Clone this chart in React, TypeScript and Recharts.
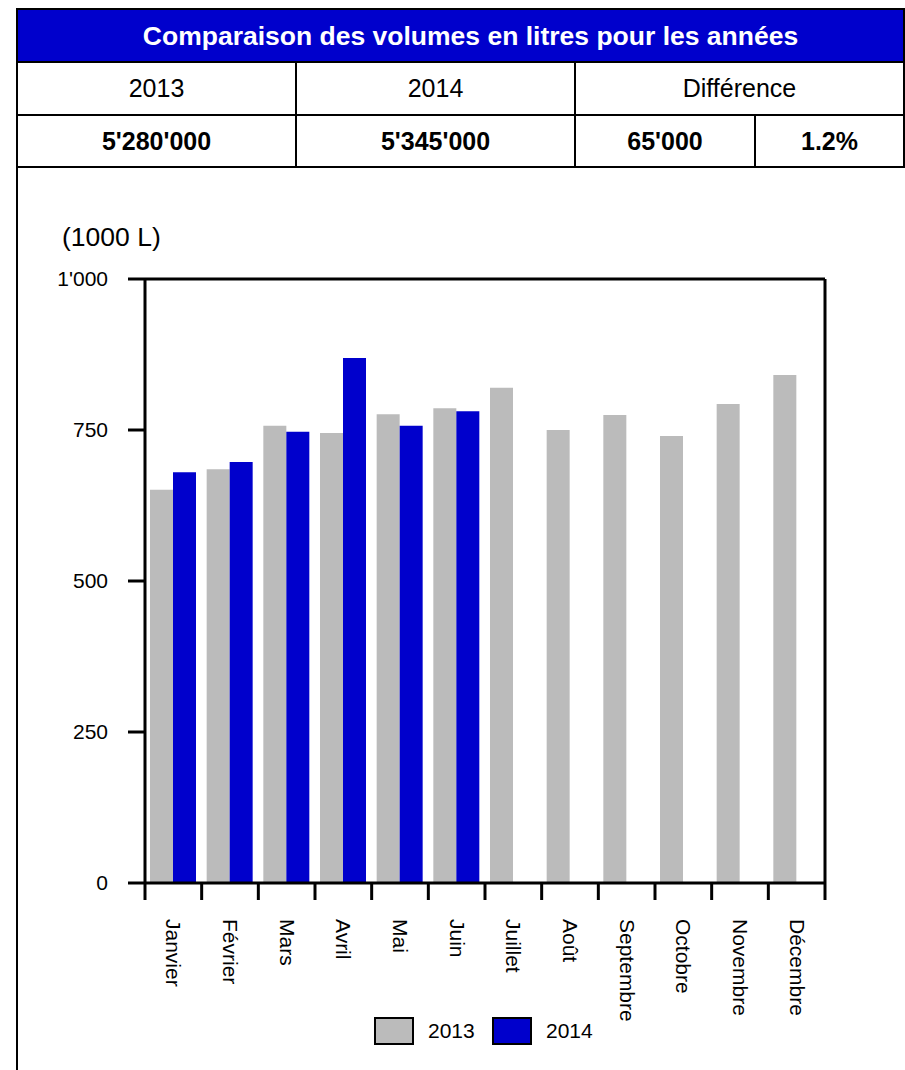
import React from 'react';
import { BarChart, Bar, XAxis, YAxis, ReferenceLine } from 'recharts';

const months = ['Janvier', 'Février', 'Mars', 'Avril', 'Mai', 'Juin', 'Juillet', 'Août', 'Septembre', 'Octobre', 'Novembre', 'Décembre'];
const values2013 = [651, 685, 757, 745, 776, 786, 820, 750, 775, 740, 793, 841];
const values2014: (number | null)[] = [680, 697, 747, 869, 757, 781, null, null, null, null, null, null];
const yTicks = [0, 250, 500, 750, 1000];
const seriesNames = ['2013', '2014'];
const seriesColors = ['#BBBBBB', '#0000CC'];

const tableTitle = 'Comparaison des volumes en litres pour les années';
const headerYears = ['2013', '2014', 'Différence'];
const totals = ["5'280'000", "5'345'000", "65'000", '1.2%'];
const unitLabel = '(1000 L)';

const data = months.map((m, i) => ({ month: m, v2013: values2013[i], v2014: values2014[i] }));

const FONT = '"Liberation Sans", Arial, Helvetica, sans-serif';
const PLOT_LEFT = 145;
const PLOT_RIGHT = 825;
const BAND = (PLOT_RIGHT - PLOT_LEFT) / months.length;

const fmt = (v: number) => (v >= 1000 ? `${Math.floor(v / 1000)}'${String(v % 1000).padStart(3, '0')}` : String(v));

const MonthTick = (props: any) => {
  const { x, y, payload, index } = props;
  const half = BAND / 2;
  return (
    <g>
      <line x1={x - half} x2={x - half} y1={y} y2={y + 17} stroke="#000" strokeWidth={3} />
      {index === months.length - 1 && (
        <line x1={x + half} x2={x + half} y1={y} y2={y + 17} stroke="#000" strokeWidth={3} />
      )}
      <text
        transform={`translate(${x - 7},${y + 36}) rotate(90)`}
        textAnchor="start"
        fontSize={21}
        fontFamily={FONT}
        fill="#000"
      >
        {payload.value}
      </text>
    </g>
  );
};

const line = (style: React.CSSProperties) => (
  <div style={{ position: 'absolute', background: '#000', ...style }} />
);

const cellText = (text: string, left: number, width: number, top: number, height: number, bold: boolean, color = '#000', size = 25) => (
  <div
    style={{
      position: 'absolute',
      left,
      top,
      width,
      height,
      display: 'flex',
      alignItems: 'center',
      justifyContent: 'center',
      fontFamily: FONT,
      fontSize: size,
      fontWeight: bold ? 'bold' : 'normal',
      color,
      whiteSpace: 'nowrap',
    }}
  >
    {text}
  </div>
);

export default function App() {
  return (
    <div style={{ position: 'absolute', left: 0, top: 0, width: 905, height: 1070, background: '#fff', overflow: 'hidden' }}>
      {/* table */}
      <div style={{ position: 'absolute', left: 17, top: 9, width: 888, height: 53, background: '#0000CC' }} />
      {line({ left: 16, top: 8, width: 889, height: 2 })}
      {line({ left: 16, top: 61, width: 889, height: 2 })}
      {line({ left: 16, top: 114, width: 889, height: 2 })}
      {line({ left: 16, top: 166, width: 889, height: 2 })}
      {line({ left: 16, top: 8, width: 2, height: 1062 })}
      {line({ left: 903, top: 8, width: 2, height: 160 })}
      {line({ left: 295, top: 62, width: 2, height: 106 })}
      {line({ left: 574, top: 62, width: 2, height: 106 })}
      {line({ left: 754, top: 115, width: 2, height: 53 })}
      {cellText(tableTitle, 28, 885, 10, 52, true, '#fff', 26.5)}
      {cellText(headerYears[0], 18, 277, 63, 51, false)}
      {cellText(headerYears[1], 297, 277, 63, 51, false)}
      {cellText(headerYears[2], 576, 327, 63, 51, false)}
      {cellText(totals[0], 18, 277, 116, 50, true)}
      {cellText(totals[1], 297, 277, 116, 50, true)}
      {cellText(totals[2], 576, 178, 116, 50, true)}
      {cellText(totals[3], 756, 147, 116, 50, true)}

      {/* unit label */}
      <div style={{ position: 'absolute', left: 62, top: 221, fontFamily: FONT, fontSize: 26.5, color: '#000', lineHeight: '32px' }}>
        {unitLabel}
      </div>

      {/* chart */}
      <div style={{ position: 'absolute', left: 0, top: 170 }}>
        <BarChart
          width={905}
          height={900}
          data={data}
          margin={{ top: 109, right: 79, bottom: 67, left: 0 }}
          barGap={0}
          barSize={23}
        >
          <XAxis
            dataKey="month"
            height={120}
            tickSize={0}
            tickMargin={0}
            tickLine={false}
            axisLine={{ stroke: '#000', strokeWidth: 3 }}
            tick={<MonthTick />}
            interval={0}
          />
          <YAxis
            width={145}
            domain={[0, 1000]}
            ticks={yTicks}
            interval={0}
            tickFormatter={fmt}
            tickSize={17}
            tickMargin={20}
            tickLine={{ stroke: '#000', strokeWidth: 3 }}
            axisLine={{ stroke: '#000', strokeWidth: 3 }}
            tick={{ fill: '#000', fontSize: 21, fontFamily: FONT }}
          />
          <YAxis
            yAxisId="right"
            orientation="right"
            width={1}
            domain={[0, 1000]}
            tick={false}
            tickLine={false}
            axisLine={{ stroke: '#000', strokeWidth: 3 }}
          />
          <ReferenceLine y={1000} stroke="#000" strokeWidth={3} />
          <Bar dataKey="v2013" name={seriesNames[0]} fill={seriesColors[0]} isAnimationActive={false} />
          <Bar dataKey="v2014" name={seriesNames[1]} fill={seriesColors[1]} isAnimationActive={false} />
        </BarChart>
      </div>

      {/* legend */}
      {seriesNames.map((name, i) => (
        <React.Fragment key={name}>
          <div
            style={{
              position: 'absolute',
              left: 374 + i * 118,
              top: 1017,
              width: 36,
              height: 24,
              background: seriesColors[i],
              border: '2px solid #000',
            }}
          />
          <div
            style={{
              position: 'absolute',
              left: 428 + i * 118,
              top: 1017,
              height: 28,
              lineHeight: '28px',
              fontFamily: FONT,
              fontSize: 21,
              color: '#000',
            }}
          >
            {name}
          </div>
        </React.Fragment>
      ))}
    </div>
  );
}
